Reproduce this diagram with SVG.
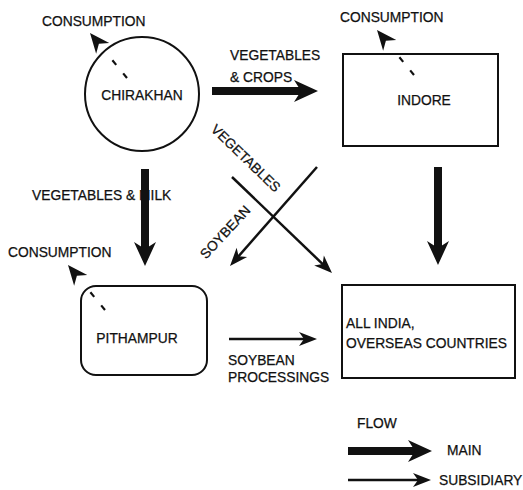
<svg xmlns="http://www.w3.org/2000/svg" width="523" height="490" viewBox="0 0 523 490">
<style>
.t{font-family:"Liberation Sans",Arial,sans-serif;font-size:13.8px;fill:#111;stroke:#111;stroke-width:0.25}
.node{fill:#fff;stroke:#111;stroke-width:2}
.main{stroke:#111;stroke-width:8;fill:none}
.sub{stroke:#111;stroke-width:2.5;fill:none}
.cons{stroke:#111;stroke-width:2.2;fill:none;stroke-dasharray:6 11 6 200}
</style>
<defs>
<marker id="mMain" viewBox="-25 -12 26 24" refX="-15" refY="0" markerWidth="26" markerHeight="24" markerUnits="userSpaceOnUse" orient="auto">
<path d="M0,0 L-24,-11 L-17,0 L-24,11 Z" fill="#111"/>
</marker>
<marker id="mSub" viewBox="-19 -8 20 16" refX="-10" refY="0" markerWidth="20" markerHeight="16" markerUnits="userSpaceOnUse" orient="auto">
<path d="M0,0 L-18,-7 L-13,0 L-18,7 Z" fill="#111"/>
</marker>
<marker id="mCons" viewBox="-21 -9 22 18" refX="-14" refY="0" markerWidth="22" markerHeight="18" markerUnits="userSpaceOnUse" orient="auto">
<path d="M0,0 L-20,-8.5 L-14,0 L-20,8.5 Z" fill="#111"/>
</marker>
</defs>
<rect width="523" height="490" fill="#fff"/>

<g id="chirakhan">
<circle class="node" cx="142" cy="94" r="57"/>
<text class="t" x="142" y="100" text-anchor="middle">CHIRAKHAN</text>
</g>
<g id="indore">
<rect class="node" x="343" y="54" width="155" height="92"/>
<text class="t" x="424" y="105" text-anchor="middle">INDORE</text>
</g>
<g id="pithampur">
<rect class="node" x="81" y="286" width="126" height="89" rx="15" ry="15"/>
<text class="t" x="137" y="343" text-anchor="middle">PITHAMPUR</text>
</g>
<g id="allindia">
<rect class="node" x="342" y="285" width="173" height="93"/>
<text class="t" x="346" y="328">ALL INDIA,</text>
<text class="t" x="346" y="348">OVERSEAS COUNTRIES</text>
</g>

<g id="connectors">
<!-- consumption -->
<path class="cons" d="M127,78 L98.9,43.8" marker-end="url(#mCons)"/>
<text class="t" x="42" y="26">CONSUMPTION</text>
<path class="cons" d="M414,75 L385.9,40.8" marker-end="url(#mCons)"/>
<text class="t" x="340" y="22">CONSUMPTION</text>
<path class="cons" d="M105,310 L76.9,275.8" marker-end="url(#mCons)"/>
<text class="t" x="8" y="257">CONSUMPTION</text>

<!-- Chirakhan to Indore -->
<text class="t" x="230" y="60">VEGETABLES</text>
<text class="t" x="230" y="82">&amp; CROPS</text>
<path class="main" d="M212,91 L303,91" marker-end="url(#mMain)"/>

<!-- Chirakhan to Pithampur -->
<text class="t" x="32" y="200">VEGETABLES &amp; MILK</text>
<path class="main" d="M145,169 L145,251" marker-end="url(#mMain)"/>

<!-- Indore to All India -->
<path class="main" d="M438,167 L438,250" marker-end="url(#mMain)"/>

<!-- cross arrows -->
<path class="sub" d="M232,177 L324.8,266.1" marker-end="url(#mSub)"/>
<g transform="translate(246,158) rotate(44)"><text class="t" x="0" y="5" text-anchor="middle">VEGETABLES</text></g>
<path class="sub" d="M317,167 L236.6,258.5" marker-end="url(#mSub)"/>
<g transform="translate(225,232) rotate(-47)"><text class="t" x="0" y="5" text-anchor="middle">SOYBEAN</text></g>

<!-- Pithampur to All India -->
<path class="sub" d="M229,339 L307,339" marker-end="url(#mSub)"/>
<text class="t" x="228" y="365">SOYBEAN</text>
<text class="t" x="228" y="382">PROCESSINGS</text>
</g>

<g id="legend">
<text class="t" x="357" y="428">FLOW</text>
<path class="main" d="M348,451 L417,451" marker-end="url(#mMain)"/>
<text class="t" x="447" y="455">MAIN</text>
<path class="sub" d="M348,480 L421,480" marker-end="url(#mSub)"/>
<text class="t" x="439" y="485">SUBSIDIARY</text>
</g>
</svg>
